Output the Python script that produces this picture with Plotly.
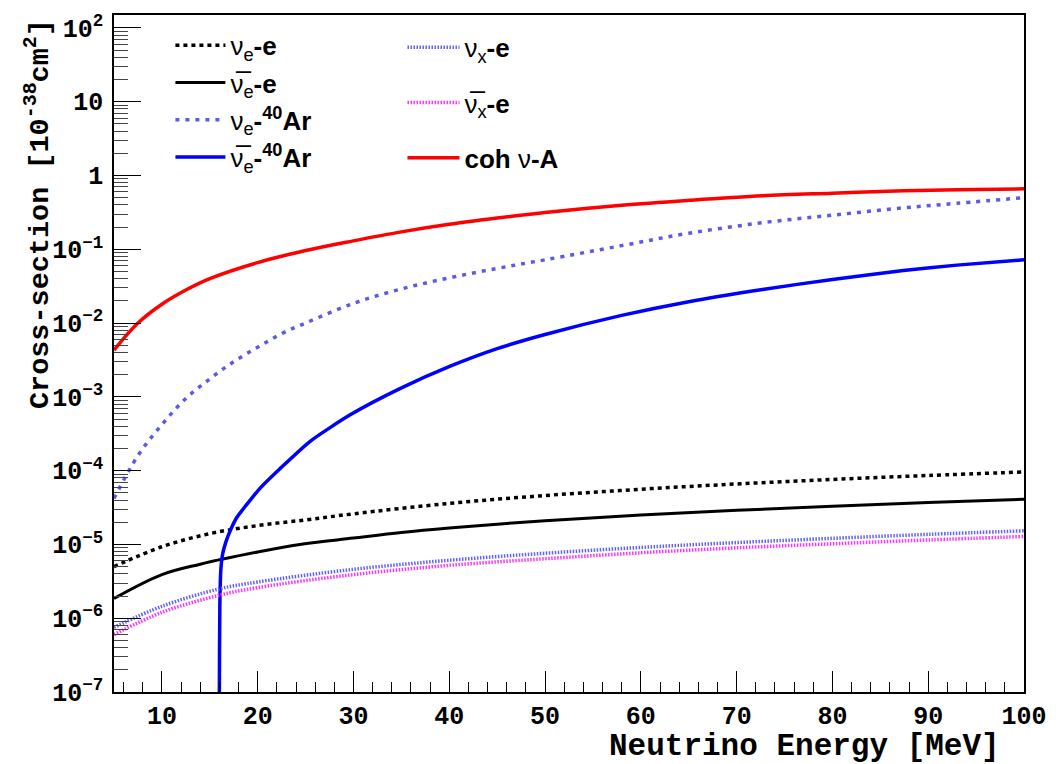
import plotly.graph_objects as go

# ---------------- data ----------------
E_nue_e = [5, 10, 15, 20, 25, 30, 40, 50, 60, 70, 80, 90, 100]
xs_nue_e = [5.0e-6, 9.3e-6, 1.4e-5, 1.8e-5, 2.15e-5, 2.6e-5, 3.6e-5, 4.6e-5, 5.6e-5, 6.6e-5, 7.6e-5, 8.6e-5, 9.6e-5]

E_nuebar_e = [5, 10, 14, 20, 24.4, 30, 35, 40, 45, 50, 60, 70, 80, 90, 100]
xs_nuebar_e = [1.85e-6, 3.9e-6, 5.4e-6, 7.9e-6, 1.0e-5, 1.22e-5, 1.45e-5, 1.67e-5, 1.88e-5, 2.1e-5, 2.5e-5, 2.9e-5, 3.3e-5, 3.7e-5, 4.1e-5]

E_nue_Ar = [5, 7.5, 10, 12.5, 15, 17.5, 20, 22.5, 25, 30, 35, 40, 45, 50, 58, 65, 72.7, 80, 87.4, 93, 100]
xs_nue_Ar = [4.2e-5, 1.6e-4, 4.2e-4, 9.5e-4, 1.75e-3, 3.0e-3, 4.7e-3, 7.2e-3, 1.0e-2, 1.85e-2, 2.9e-2, 4.1e-2, 5.5e-2, 7.2e-2, 0.112, 0.165, 0.229, 0.29, 0.364, 0.42, 0.50]

E_nuebar_Ar = [15.97, 16.0, 16.05, 16.15, 16.35, 16.65, 17.1, 17.8, 18.8, 20.26, 22.35, 25.48, 29.66, 34.9, 40.1, 45, 50, 58, 65, 72.7, 80, 87.4, 93, 100]
xs_nuebar_Ar = [1e-9, 1e-7, 1.5e-6, 4.5e-6, 7.5e-6, 1.05e-5, 1.5e-5, 2.3e-5, 3.4e-5, 5.8e-5, 1.07e-4, 2.5e-4, 5.7e-4, 1.3e-3, 2.6e-3, 4.5e-3, 7.0e-3, 1.27e-2, 1.95e-2, 2.85e-2, 3.9e-2, 5.15e-2, 6.1e-2, 7.2e-2]

E_nux_e = [5, 10, 16, 20, 30, 40, 50, 60, 70, 80, 90, 100]
xs_nux_e = [7.5e-7, 1.45e-6, 2.5e-6, 3.1e-6, 4.6e-6, 6.1e-6, 7.6e-6, 9.1e-6, 1.06e-5, 1.21e-5, 1.37e-5, 1.53e-5]

E_nuxbar_e = [5, 10, 16, 20, 30, 40, 50, 60, 70, 80, 90, 100]
xs_nuxbar_e = [6.0e-7, 1.2e-6, 2.05e-6, 2.6e-6, 3.9e-6, 5.2e-6, 6.4e-6, 7.7e-6, 9.0e-6, 1.02e-5, 1.15e-5, 1.28e-5]

E_coh = [5, 7.5, 10, 12.5, 15, 20, 25, 30, 35, 40, 45, 50, 58, 65, 72.7, 80, 87.4, 93, 100]
xs_coh = [4.3e-3, 1.0e-2, 1.8e-2, 2.8e-2, 4.0e-2, 6.6e-2, 9.6e-2, 0.13, 0.172, 0.218, 0.265, 0.315, 0.395, 0.46, 0.53, 0.575, 0.62, 0.64, 0.66]

y_tickvals = [1e-7, 1e-6, 1e-5, 1e-4, 1e-3, 1e-2, 1e-1, 1, 10, 100]
y_ticktext = ["10<sup>−7</sup>", "10<sup>−6</sup>", "10<sup>−5</sup>", "10<sup>−4</sup>", "10<sup>−3</sup>",
              "10<sup>−2</sup>", "10<sup>−1</sup>", "1", "10", "10<sup>2</sup>"]
x_tickvals = [10, 20, 30, 40, 50, 60, 70, 80, 90, 100]

NUBAR = "ν\u0305"
MONO = "Liberation Mono"
SANS = "Liberation Sans"

fig = go.Figure()

def add(x, y, name, color, width, dash, legend, group, shape="spline", smoothing=1.0):
    fig.add_trace(go.Scatter(
        x=x, y=y, mode="lines", name=name,
        line=dict(color=color, width=width, dash=dash, shape=shape, smoothing=smoothing),
        legend=legend, legendgroup=group, showlegend=True))

add(E_nue_e, xs_nue_e, "ν<sub>e</sub><b>-e</b>", "black", 3.5, "4px,4px", "legend", "a")
add(E_nuebar_e, xs_nuebar_e, NUBAR + "<sub>e</sub><b>-e</b>", "black", 3, "solid", "legend", "b")
add(E_nue_Ar, xs_nue_Ar, "ν<sub>e</sub><b>-<sup>40</sup>Ar</b>", "#5b5be8", 3.5, "4px,6px", "legend", "c")
add(E_nuebar_Ar, xs_nuebar_Ar, NUBAR + "<sub>e</sub><b>-<sup>40</sup>Ar</b>", "#0000ff", 3.5, "solid", "legend", "d", smoothing=0.6)
add(E_nux_e, xs_nux_e, "ν<sub>x</sub><b>-e</b>", "#6262ff", 3.5, "1.5px,1.5px", "legend2", "e")
add(E_nuxbar_e, xs_nuxbar_e, NUBAR + "<sub>x</sub><b>-e</b>", "#ff33ff", 3.5, "1.5px,1.5px", "legend2", "f")
add(E_coh, xs_coh, "<b>coh</b> ν<b>-A</b>", "#ff0000", 3.5, "solid", "legend2", "g")

# the page body adds an 8px offset; size the figure so the plot lands where the reference has it
fig.update_layout(
    width=1052, height=756,
    margin=dict(l=106, r=36, t=3, b=72),
    paper_bgcolor="white", plot_bgcolor="white",
    showlegend=True,
    legend=dict(x=0.062, y=0.99, xanchor="left", yanchor="top",
                bgcolor="rgba(0,0,0,0)", font=dict(family=SANS, size=26, color="black"),
                tracegroupgap=0.5, itemwidth=50, traceorder="grouped"),
    legend2=dict(x=0.317, y=0.987, xanchor="left", yanchor="top",
                 bgcolor="rgba(0,0,0,0)", font=dict(family=SANS, size=26, color="black"),
                 tracegroupgap=18.5, itemwidth=52, traceorder="grouped"),
    xaxis=dict(range=[5, 100], tickvals=x_tickvals, ticks="inside", ticklen=21,
               tickwidth=1.2, tickcolor="black",
               showline=True, linecolor="black", linewidth=1.5, mirror=True,
               showgrid=False, zeroline=False,
               tickfont=dict(family=MONO, size=25, color="black", weight="bold"),
               minor=dict(dtick=2, ticks="inside", ticklen=10, tickwidth=1.2, tickcolor="black", showgrid=False)),
    yaxis=dict(type="log", range=[-7, 2.175], tickvals=y_tickvals, ticktext=y_ticktext,
               ticks="inside", ticklen=27, tickwidth=1.2, tickcolor="black",
               showline=True, linecolor="black", linewidth=1.5, mirror=True,
               showgrid=False, zeroline=False, ticklabelstandoff=4,
               tickfont=dict(family=MONO, size=25, color="black", weight="bold"),
               minor=dict(dtick="D1", ticks="inside", ticklen=14, tickwidth=1.2, tickcolor="#444", showgrid=False)),
)

fig.add_annotation(text="Cross-section [10<sup>-38</sup>cm<sup>2</sup>]", xref="paper", yref="paper",
                   x=-0.0835, y=0.706, xanchor="center", yanchor="middle", textangle=-90,
                   showarrow=False, font=dict(family=MONO, size=28.5, color="black", weight="bold"))
fig.add_annotation(text="Neutrino Energy [MeV]", xref="paper", yref="paper",
                   x=0.759, y=-0.0808, xanchor="center", yanchor="middle",
                   showarrow=False, font=dict(family=MONO, size=31, color="black", weight="bold"))

fig.write_html("out.html")
